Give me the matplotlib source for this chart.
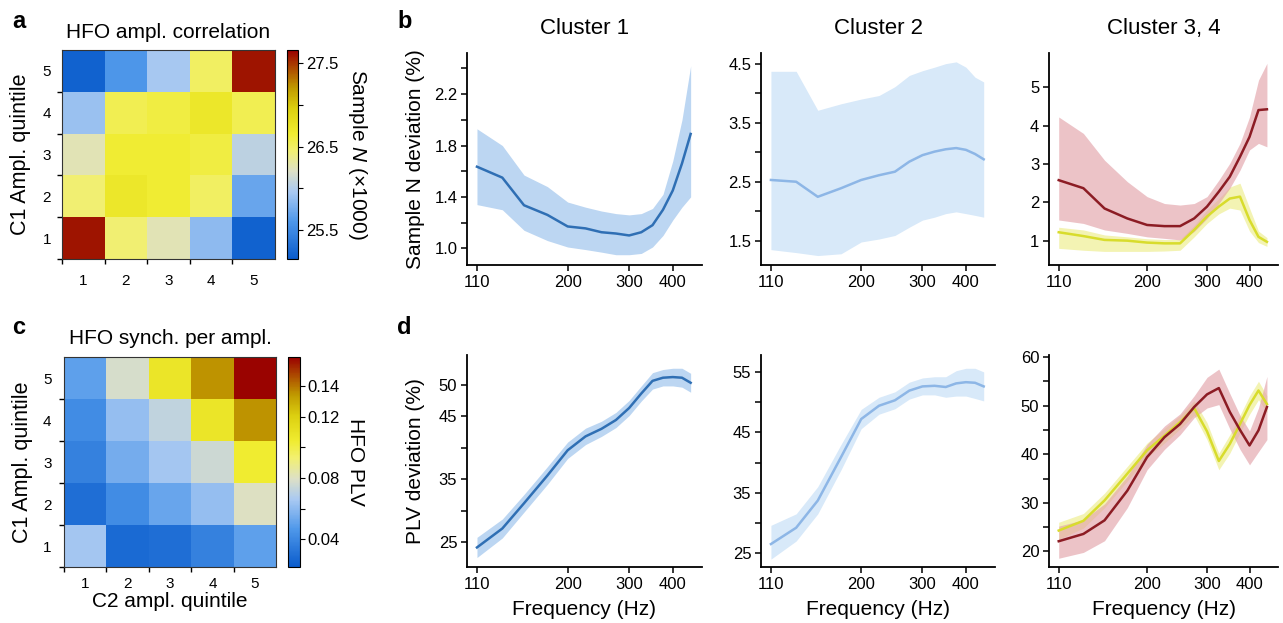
import numpy as np
import matplotlib
matplotlib.use('Agg')
import matplotlib.pyplot as plt
from matplotlib.colors import LinearSegmentedColormap
from matplotlib.ticker import NullLocator, NullFormatter, FixedLocator

plt.rcParams['font.family'] = ['Liberation Sans', 'DejaVu Sans']
plt.rcParams['mathtext.fontset'] = 'custom'
plt.rcParams['mathtext.rm'] = 'Liberation Sans'
plt.rcParams['mathtext.it'] = 'Liberation Sans:italic'

# === data ===
quintiles = [1, 2, 3, 4, 5]

# rows = C1 quintile 1..5 (bottom to top), cols = C2 quintile 1..5
ampl_corr = [
    [27.6, 26.45, 26.25, 25.85, 25.2],
    [26.45, 26.7, 26.65, 26.5, 25.7],
    [26.25, 26.65, 26.65, 26.6, 26.05],
    [25.9, 26.55, 26.6, 26.7, 26.55],
    [25.2, 25.6, 25.95, 26.5, 27.6],
]
synch_ampl = [
    [0.065, 0.028, 0.030, 0.038, 0.050],
    [0.030, 0.042, 0.052, 0.062, 0.080],
    [0.038, 0.055, 0.065, 0.075, 0.104],
    [0.042, 0.062, 0.072, 0.108, 0.135],
    [0.050, 0.078, 0.108, 0.135, 0.158],
]

freq = [110, 130, 150, 175, 200, 225, 250, 275, 300, 325, 350, 375, 400, 425, 450]
freq_ticks = [110, 200, 300, 400]

# sample N deviation (%)
sn_c1 = [1.635, 1.55, 1.335, 1.26, 1.17, 1.155, 1.125, 1.115, 1.10, 1.125, 1.18, 1.30, 1.45, 1.66, 1.89]
sn_c1_hi = [1.93, 1.80, 1.57, 1.48, 1.36, 1.32, 1.29, 1.27, 1.26, 1.27, 1.31, 1.42, 1.68, 2.00, 2.42]
sn_c1_lo = [1.34, 1.30, 1.14, 1.06, 1.01, 0.99, 0.97, 0.95, 0.95, 0.96, 1.01, 1.10, 1.22, 1.32, 1.40]

sn_c2 = [2.53, 2.50, 2.245, 2.39, 2.53, 2.61, 2.67, 2.84, 2.95, 3.01, 3.05, 3.07, 3.04, 2.97, 2.88]
sn_c2_hi = [4.37, 4.37, 3.71, 3.82, 3.90, 3.96, 4.11, 4.30, 4.38, 4.44, 4.50, 4.53, 4.44, 4.27, 4.19]
sn_c2_lo = [1.35, 1.30, 1.25, 1.28, 1.48, 1.53, 1.59, 1.73, 1.85, 1.90, 1.96, 1.99, 1.96, 1.93, 1.90]

sn_c3 = [2.58, 2.37, 1.84, 1.58, 1.41, 1.38, 1.38, 1.58, 1.89, 2.28, 2.67, 3.19, 3.71, 4.41, 4.43]
sn_c3_hi = [4.23, 3.80, 3.10, 2.54, 2.15, 1.97, 1.93, 1.97, 2.15, 2.58, 3.02, 3.54, 4.23, 5.19, 5.63]
sn_c3_lo = [1.54, 1.45, 1.28, 1.19, 1.10, 1.06, 1.02, 1.24, 1.58, 1.97, 2.37, 2.84, 3.37, 3.54, 3.45]

sn_c4 = [1.22, 1.12, 1.02, 1.00, 0.95, 0.93, 0.93, 1.28, 1.63, 1.89, 2.10, 2.15, 1.54, 1.10, 0.97]
sn_c4_hi = [1.35, 1.28, 1.15, 1.10, 1.05, 1.03, 1.03, 1.40, 1.80, 2.10, 2.40, 2.50, 1.85, 1.25, 1.08]
sn_c4_lo = [0.80, 0.75, 0.72, 0.72, 0.72, 0.73, 0.75, 1.10, 1.45, 1.70, 1.85, 1.80, 1.25, 0.95, 0.85]

# PLV deviation (%)
plv_c1 = [24.2, 27.2, 31.2, 35.6, 39.6, 41.8, 43.0, 44.4, 46.3, 48.6, 50.6, 51.1, 51.2, 51.1, 50.3]
plv_c1_hi = [25.8, 28.7, 32.6, 37.0, 40.9, 43.1, 44.2, 45.6, 47.5, 49.8, 51.9, 52.4, 52.6, 52.6, 51.8]
plv_c1_lo = [22.6, 25.7, 29.8, 34.2, 38.3, 40.5, 41.8, 43.2, 45.1, 47.4, 49.3, 49.8, 49.8, 49.6, 48.8]

plv_c2 = [26.5, 29.2, 33.7, 40.9, 47.2, 49.4, 50.3, 51.9, 52.6, 52.7, 52.5, 53.1, 53.3, 53.2, 52.6]
plv_c2_hi = [29.6, 31.5, 36.0, 43.0, 48.8, 50.8, 51.7, 53.3, 54.0, 54.2, 54.2, 55.2, 55.6, 55.6, 55.0]
plv_c2_lo = [24.0, 27.0, 31.5, 38.8, 45.6, 48.0, 48.9, 50.5, 51.2, 51.2, 50.8, 51.0, 51.0, 50.6, 50.2]

plv_c3 = [22.1, 23.6, 26.4, 32.5, 39.4, 43.5, 46.2, 49.7, 52.3, 53.6, 48.7, 45.0, 41.8, 44.9, 49.7]
plv_c3_hi = [25.2, 26.5, 29.8, 35.5, 42.0, 45.8, 48.3, 52.0, 55.8, 57.5, 52.5, 48.0, 44.8, 49.5, 56.0]
plv_c3_lo = [18.6, 19.8, 22.2, 29.0, 36.8, 41.0, 44.0, 47.5, 49.5, 50.2, 45.2, 41.0, 37.8, 40.5, 43.0]

plv_c4 = [24.3, 26.3, 30.5, 36.0, 40.8, 43.8, 46.6, 49.5, 44.7, 38.6, 42.1, 46.2, 50.1, 53.1, 50.3]
plv_c4_hi = [26.0, 27.8, 32.0, 37.5, 42.3, 45.3, 48.0, 51.0, 46.5, 40.2, 44.0, 48.0, 52.0, 55.0, 52.0]
plv_c4_lo = [22.5, 24.8, 29.0, 34.5, 39.3, 42.3, 45.2, 48.0, 43.0, 36.8, 40.2, 44.4, 48.2, 51.2, 48.6]

# === styles ===
cmap = LinearSegmentedColormap.from_list('hfo', [
    (0.0, '#0a5ccc'), (0.18, '#4f98ea'), (0.32, '#a9c9f2'), (0.42, '#dde0c6'),
    (0.52, '#f2f070'), (0.6, '#f0ec30'), (0.72, '#dcd010'), (0.82, '#c09a00'),
    (1.0, '#9a0000')])

C1_LINE, C1_BAND = '#2f6fb4', '#bcd6f2'
C2_LINE, C2_BAND = '#8db6e6', '#d8e9f9'
C3_LINE, C3_BAND = '#8c1c24', '#e3a3aa'
C4_LINE, C4_BAND = '#d8dc2c', '#f0f0a0'

W, H = 1283, 623
fig = plt.figure(figsize=(W / 100, H / 100), dpi=100)


def px_axes(left, top, right, bottom):
    return fig.add_axes([left / W, 1 - bottom / H, (right - left) / W, (bottom - top) / H])


def heatmap(ax, cax, data, vmin, vmax, title, cticks, cminor, cfmt, xpad, ypad):
    im = ax.imshow(np.array(data), cmap=cmap, vmin=vmin, vmax=vmax, origin='lower',
                   aspect='auto', extent=(0.5, 5.5, 0.5, 5.5), interpolation='nearest')
    ax.set_xticks(quintiles)
    ax.set_yticks(quintiles)
    ax.set_xticklabels([str(q) for q in quintiles])
    ax.set_yticklabels([str(q) for q in quintiles])
    ax.set_xticks([0.5, 1.5, 2.5, 3.5, 4.5], minor=True)
    ax.set_yticks([0.5, 1.5, 2.5, 3.5, 4.5], minor=True)
    ax.tick_params(which='major', length=0, labelsize=11)
    ax.tick_params(axis='x', which='major', pad=xpad)
    ax.tick_params(axis='y', which='major', pad=ypad)
    ax.tick_params(which='minor', length=3.5, width=1, direction='out')
    for s in ax.spines.values():
        s.set_linewidth(0.8)
        s.set_color('#333333')
    ax.set_title(title, fontsize=15, pad=9)
    ax.set_ylabel('C1 Ampl. quintile', fontsize=15.5)
    ax.yaxis.set_label_coords(-0.145, 0.5)

    cb = fig.colorbar(im, cax=cax)
    cb.set_ticks(cticks)
    cb.set_ticklabels([cfmt.format(t) for t in cticks])
    cb.ax.yaxis.set_minor_locator(FixedLocator(cminor))
    cb.ax.tick_params(which='both', length=3.5, width=0.8, labelsize=12, pad=2)
    cb.outline.set_linewidth(0.8)
    return cb


def curve_panel(ax, bands, lines, ylim, yticks, ylabels, yminor):
    for lo, hi, col, a in bands:
        ax.fill_between(freq, lo, hi, color=col, lw=0, alpha=a)
    for y, col in lines:
        ax.plot(freq, y, color=col, lw=1.8)
    ax.set_xscale('log')
    ax.set_xlim(103, 485)
    ax.set_ylim(*ylim)
    ax.set_xticks(freq_ticks)
    ax.set_xticklabels([str(f) for f in freq_ticks])
    ax.xaxis.set_minor_locator(NullLocator())
    ax.xaxis.set_minor_formatter(NullFormatter())
    ax.set_yticks(yticks)
    ax.set_yticklabels(ylabels)
    ax.set_yticks(yminor, minor=True)
    ax.tick_params(which='both', direction='out', length=4, width=1.1, labelsize=12, pad=3)
    for side in ['top', 'right']:
        ax.spines[side].set_visible(False)
    for side in ['left', 'bottom']:
        ax.spines[side].set_linewidth(1.3)


# === panel a ===
ax_a = px_axes(62, 50, 275, 259)
cax_a = px_axes(287, 50, 298, 259)
heatmap(ax_a, cax_a, ampl_corr, 25.15, 27.66, 'HFO ampl. correlation',
        [25.5, 26.5, 27.5], [26.0, 27.0], '{:.1f}', xpad=11, ypad=8)
fig.text(358 / W, 1 - 154 / H, 'Sample $N$ (×1000)', rotation=270, ha='center', va='center', fontsize=15)

# === panel c ===
ax_c = px_axes(64, 357, 276, 567)
cax_c = px_axes(288, 357, 300, 567)
heatmap(ax_c, cax_c, synch_ampl, 0.022, 0.159, 'HFO synch. per ampl.',
        [0.04, 0.08, 0.12, 0.14], [0.06, 0.10], '{:.2f}', xpad=7, ypad=9)
fig.text(355 / W, 1 - 462 / H, 'HFO PLV', rotation=270, ha='center', va='center', fontsize=15)
ax_c.set_xlabel('C2 ampl. quintile', fontsize=15)
ax_c.xaxis.set_label_coords(0.5, -0.12)

# === panel b ===
ax_b1 = px_axes(467, 53, 702, 265)
ax_b2 = px_axes(761, 53, 995, 265)
ax_b3 = px_axes(1049, 53, 1278, 265)

curve_panel(ax_b1, [(sn_c1_lo, sn_c1_hi, C1_BAND, 1.0)], [(sn_c1, C1_LINE)],
            (0.87, 2.52), [1.0, 1.4, 1.8, 2.2], ['1.0', '1.4', '1.8', '2.2'], [1.2, 1.6, 2.0, 2.4])
curve_panel(ax_b2, [(sn_c2_lo, sn_c2_hi, C2_BAND, 1.0)], [(sn_c2, C2_LINE)],
            (1.09, 4.68), [1.5, 2.5, 3.5, 4.5], ['1.5', '2.5', '3.5', '4.5'], [2, 3, 4])
curve_panel(ax_b3, [(sn_c4_lo, sn_c4_hi, C4_BAND, 0.8), (sn_c3_lo, sn_c3_hi, C3_BAND, 0.65)],
            [(sn_c4, C4_LINE), (sn_c3, C3_LINE)],
            (0.365, 5.9), [1, 2, 3, 4, 5], ['1', '2', '3', '4', '5'], [])
ax_b1.set_ylabel('Sample N deviation (%)', fontsize=15)
ax_b1.yaxis.set_label_coords(-0.18, 0.5)
for ax, t in zip([ax_b1, ax_b2, ax_b3], ['Cluster 1', 'Cluster 2', 'Cluster 3, 4']):
    ax.set_title(t, fontsize=16, pad=14)

# === panel d ===
ax_d1 = px_axes(467, 355, 702, 567)
ax_d2 = px_axes(761, 355, 995, 567)
ax_d3 = px_axes(1049, 355, 1278, 567)

curve_panel(ax_d1, [(plv_c1_lo, plv_c1_hi, C1_BAND, 1.0)], [(plv_c1, C1_LINE)],
            (21.1, 54.7), [25, 30, 35, 40, 45, 50], ['25', '', '35', '', '45', '50'], [])
curve_panel(ax_d2, [(plv_c2_lo, plv_c2_hi, C2_BAND, 1.0)], [(plv_c2, C2_LINE)],
            (22.7, 57.8), [25, 35, 45, 55], ['25', '35', '45', '55'], [30, 40, 50])
curve_panel(ax_d3, [(plv_c4_lo, plv_c4_hi, C4_BAND, 0.8), (plv_c3_lo, plv_c3_hi, C3_BAND, 0.65)],
            [(plv_c4, C4_LINE), (plv_c3, C3_LINE)],
            (16.8, 60.4), [20, 30, 40, 50, 60], ['20', '30', '40', '50', '60'], [25, 35, 45, 55])
ax_d1.set_ylabel('PLV deviation (%)', fontsize=15)
ax_d1.yaxis.set_label_coords(-0.18, 0.5)
for ax in [ax_d1, ax_d2, ax_d3]:
    ax.set_xlabel('Frequency (Hz)', fontsize=15)
    ax.xaxis.set_label_coords(0.5, -0.155)

# === panel letters ===
for x, y, s in [(12, 10, 'a'), (397, 10, 'b'), (12, 316, 'c'), (397, 316, 'd')]:
    fig.text(x / W, 1 - y / H, s, fontsize=17, fontweight='bold', ha='left', va='top')

fig.savefig('out.png', dpi=100)
